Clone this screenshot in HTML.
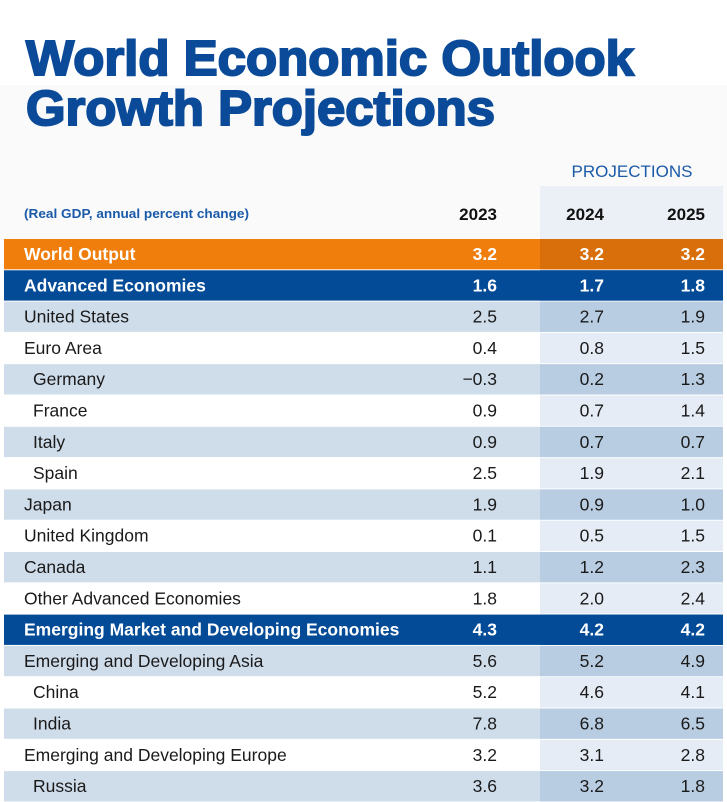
<!DOCTYPE html>
<html><head><meta charset="utf-8"><style>
html,body{margin:0;padding:0;background:#fff;}
svg{display:block;font-family:"Liberation Sans",sans-serif;}
</style></head><body>
<svg id="chart" width="727" height="802" viewBox="0 0 727 802">
<rect x="0" y="0" width="727" height="802" fill="#fff"/>
<rect x="0" y="85" width="727" height="155" fill="#f6f7f9" opacity="0.6"/>
<text x="26" y="75" font-size="49" font-weight="bold" fill="#0a4a98" stroke="#0a4a98" stroke-width="2" textLength="608" lengthAdjust="spacingAndGlyphs">World Economic Outlook</text>
<text x="26" y="125" font-size="49" font-weight="bold" fill="#0a4a98" stroke="#0a4a98" stroke-width="2" textLength="469" lengthAdjust="spacingAndGlyphs">Growth Projections</text>
<rect x="540" y="186" width="183" height="53" fill="#e6edf5" opacity="0.8"/>
<text x="632" y="177" font-size="17" fill="#1a5aa8" text-anchor="middle">PROJECTIONS</text>
<text x="24" y="218" font-size="13" font-weight="bold" fill="#1a5aa8" textLength="225" lengthAdjust="spacingAndGlyphs">(Real GDP, annual percent change)</text>
<g id="rows"></g>
</svg>
<script>
const countries = ["World Output","Advanced Economies","United States","Euro Area","Germany","France","Italy","Spain","Japan","United Kingdom","Canada","Other Advanced Economies","Emerging Market and Developing Economies","Emerging and Developing Asia","China","India","Emerging and Developing Europe","Russia"];
const years = ["2023","2024","2025"];
const values2023 = ["3.2","1.6","2.5","0.4","\u22120.3","0.9","0.9","2.5","1.9","0.1","1.1","1.8","4.3","5.6","5.2","7.8","3.2","3.6"];
const values2024 = ["3.2","1.7","2.7","0.8","0.2","0.7","0.7","1.9","0.9","0.5","1.2","2.0","4.2","5.2","4.6","6.8","3.1","3.2"];
const values2025 = ["3.2","1.8","1.9","1.5","1.3","1.4","0.7","2.1","1.0","1.5","2.3","2.4","4.2","4.9","4.1","6.5","2.8","1.8"];
const rowTypes = ["world","group","light","white","light","white","light","white","light","white","light","white","group","light","white","light","white","light"];
const indented = [0,0,0,0,1,1,1,1,0,0,0,0,0,0,1,1,0,1];

const NS="http://www.w3.org/2000/svg";
const g=document.getElementById('rows');
const top0=239, rh=31.3, colX=[497,604,705], projX=540, projW=183;
const fills={world:["#ef7e0c","#d96f0b"],group:["#034b97","#034b97"],light:["#cfdcea","#b9cde2"],white:["#ffffff","#e5ecf5"]};
function el(tag,attrs){const e=document.createElementNS(NS,tag);for(const k in attrs)e.setAttribute(k,attrs[k]);return e;}
years.forEach((y,i)=>{
  const t=el('text',{x:colX[i],y:220,'font-size':17,'font-weight':'bold',fill:'#111','text-anchor':'end'});
  
  
  t.textContent=y;g.appendChild(t);
});
countries.forEach((c,i)=>{
  const y=top0+i*rh, tp=rowTypes[i], f=fills[tp];
  const r=el('rect',{x:4,y:y,width:719,height:rh-1,fill:f[0]});
  
  
  g.appendChild(r);
  const p=el('rect',{x:projX,y:y,width:projW,height:rh-1,fill:f[1]});
  
  
  g.appendChild(p);
  const bold=(tp==='world'||tp==='group');
  const col=bold?'#fff':'#1a1a1a';
  const t=el('text',{x:indented[i]?33:24,y:y+21,'font-size':17.5,'font-weight':bold?'bold':'normal',fill:col});
  
  
  t.textContent=c;g.appendChild(t);
  [values2023,values2024,values2025].forEach((arr,j)=>{
    const v=el('text',{x:colX[j],y:y+21,'font-size':17.5,'font-weight':bold?'bold':'normal',fill:col,'text-anchor':'end'});
    
    
    v.textContent=arr[i];g.appendChild(v);
  });
});
</script>
</body></html>
